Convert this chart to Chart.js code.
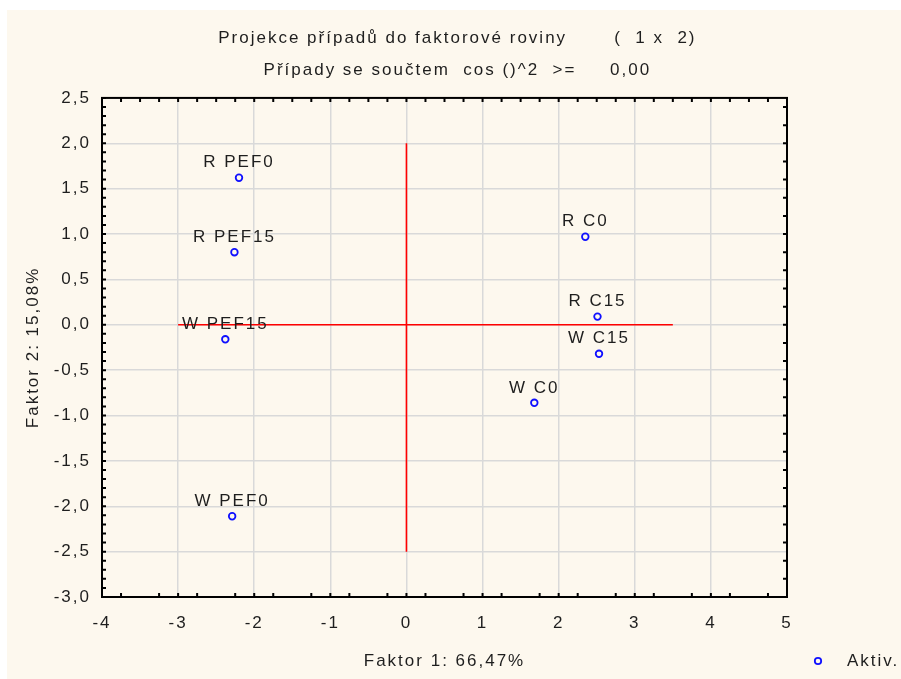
<!DOCTYPE html>
<html>
<head>
<meta charset="utf-8">
<script src="https://cdn.jsdelivr.net/npm/chart.js@4"></script>
<style>
  body { margin: 0; background: #fff; }
  #wrap { position: absolute; left: 7px; top: 10px; width: 894px; height: 669px; background: #fdf8ee; }
</style>
</head>
<body>
<div id="wrap"><canvas id="proj" width="894" height="669"></canvas></div>
<script>
const caseLabels = ['R PEF0', 'R PEF15', 'W PEF15', 'W PEF0', 'R C0', 'R C15', 'W C15', 'W C0'];
const factor1 = [-2.20, -2.26, -2.38, -2.29, 2.35, 2.51, 2.53, 1.68];
const factor2 = [1.62, 0.80, -0.16, -2.11, 0.97, 0.09, -0.32, -0.86];

// red cross lines
const hLineX = [-3, 3.5];
const hLineY = [0, 0];
const vLineX = [0, 0];
const vLineY = [2.0, -2.5];

const xTickLabels = ['-4', '-3', '-2', '-1', '0', '1', '2', '3', '4', '5'];
const yTickLabels = ['-3,0', '-2,5', '-2,0', '-1,5', '-1,0', '-0,5', '0,0', '0,5', '1,0', '1,5', '2,0', '2,5'];

const titleLines = [
  ' Projekce případů do faktorové roviny       (  1 x  2)',
  ' Případy se součtem  cos ()^2  >=     0,00'
];
const xTitle = 'Faktor 1: 66,47%';
const yTitle = 'Faktor 2: 15,08%';

const FONT = 'Liberation Sans, Arial, sans-serif';
const TXT = '#1e1e1e';
const LS = '2px';

const toPts = (xs, ys) => xs.map((x, i) => ({x: x, y: ys[i]}));

const spacing = {
  id: 'spacing',
  beforeUpdate(c) { c.ctx.letterSpacing = LS; },
  beforeLayout(c) { c.ctx.letterSpacing = LS; },
  beforeDraw(c) { c.ctx.letterSpacing = LS; }
};

const frame = {
  id: 'frame',
  afterDatasetsDraw(c) {
    const ctx = c.ctx;
    const a = c.chartArea;
    const xs = c.scales.x, ys = c.scales.y;
    ctx.save();

    // point labels
    const meta = c.getDatasetMeta(0);
    ctx.font = '17px ' + FONT;
    ctx.fillStyle = TXT;
    ctx.textAlign = 'center';
    ctx.textBaseline = 'middle';
    meta.data.forEach((el, i) => {
      ctx.fillText(caseLabels[i], el.x, el.y - 15);
    });

    // frame
    ctx.strokeStyle = '#000';
    ctx.lineWidth = 2;
    ctx.strokeRect(a.left, a.top, a.right - a.left, a.bottom - a.top);

    // small inward ticks
    ctx.beginPath();
    for (let v = -4; v <= 5.001; v += 0.25) {
      const px = xs.getPixelForValue(v);
      ctx.moveTo(px, a.top); ctx.lineTo(px, a.top + 4);
      const frac = Math.abs(v - Math.round(v));
      if (frac < 0.01 || Math.abs(frac - 0.25) < 0.01) {
        ctx.moveTo(px, a.bottom); ctx.lineTo(px, a.bottom - 4);
      }
    }
    for (let v = -3; v <= 2.501; v += 0.1) {
      const py = ys.getPixelForValue(v);
      ctx.moveTo(a.left, py); ctx.lineTo(a.left + 4, py);
    }
    for (let v = -3; v <= 2.501; v += 0.2) {
      const py = ys.getPixelForValue(v);
      ctx.moveTo(a.right, py); ctx.lineTo(a.right - 4, py);
    }
    ctx.stroke();
    ctx.restore();
  },
  afterDraw(c) {
    // legend, on the same line as the x axis title
    const ctx = c.ctx;
    const ds = c.data.datasets[0];
    const y = 651;
    ctx.save();
    ctx.strokeStyle = ds.borderColor;
    ctx.lineWidth = 1.8;
    ctx.beginPath();
    ctx.arc(811, y, 3.2, 0, Math.PI * 2);
    ctx.stroke();
    ctx.font = '17px ' + FONT;
    ctx.fillStyle = TXT;
    ctx.textAlign = 'left';
    ctx.textBaseline = 'middle';
    ctx.fillText(ds.label, 840, y);
    ctx.restore();
  }
};

new Chart(document.getElementById('proj'), {
  type: 'scatter',
  data: {
    datasets: [
      {
        label: 'Aktiv.',
        data: toPts(factor1, factor2),
        pointStyle: 'circle',
        pointRadius: 3.3,
        pointBorderWidth: 1.8,
        borderColor: '#1010ff',
        backgroundColor: 'rgba(0,0,0,0)'
      },
      {
        label: 'h',
        data: toPts(hLineX, hLineY),
        showLine: true,
        pointRadius: 0,
        borderColor: '#ff0000',
        borderWidth: 1.6
      },
      {
        label: 'v',
        data: toPts(vLineX, vLineY),
        showLine: true,
        pointRadius: 0,
        borderColor: '#ff0000',
        borderWidth: 1.6
      }
    ]
  },
  options: {
    responsive: false,
    animation: false,
    layout: { padding: 0 },
    scales: {
      x: {
        min: -4,
        max: 5,
        ticks: {
          stepSize: 1,
          padding: 16,
          color: TXT,
          font: { family: FONT, size: 17 },
          callback: (v, i) => xTickLabels[i]
        },
        grid: { color: '#d9d9d9', lineWidth: 1.5, drawTicks: false },
        border: { display: false },
        title: {
          display: true,
          text: xTitle,
          color: TXT,
          font: { family: FONT, size: 17 },
          padding: { top: 0, bottom: 7 }
        },
        afterFit: (s) => { s.height = 82; }
      },
      y: {
        min: -3,
        max: 2.5,
        ticks: {
          stepSize: 0.5,
          padding: 11,
          color: TXT,
          font: { family: FONT, size: 17 },
          callback: (v, i) => yTickLabels[i]
        },
        grid: { color: '#d9d9d9', lineWidth: 1.5, drawTicks: false },
        border: { display: false },
        title: {
          display: true,
          text: yTitle,
          color: TXT,
          font: { family: FONT, size: 17 },
          padding: { top: 16, bottom: 0 }
        },
        afterFit: (s) => { s.width = 95; }
      },
      // empty right margin where the legend sits
      side: {
        position: 'right',
        ticks: { display: false },
        grid: { display: false },
        border: { display: false },
        afterFit: (s) => { s.width = 114; }
      }
    },
    plugins: {
      legend: { display: false },
      tooltip: { enabled: false },
      title: {
        display: true,
        text: titleLines,
        color: TXT,
        font: { family: FONT, size: 17, weight: 'normal', lineHeight: 1.88 },
        padding: { top: 12, bottom: 12 }
      }
    }
  },
  plugins: [spacing, frame]
});
</script>
</body>
</html>
